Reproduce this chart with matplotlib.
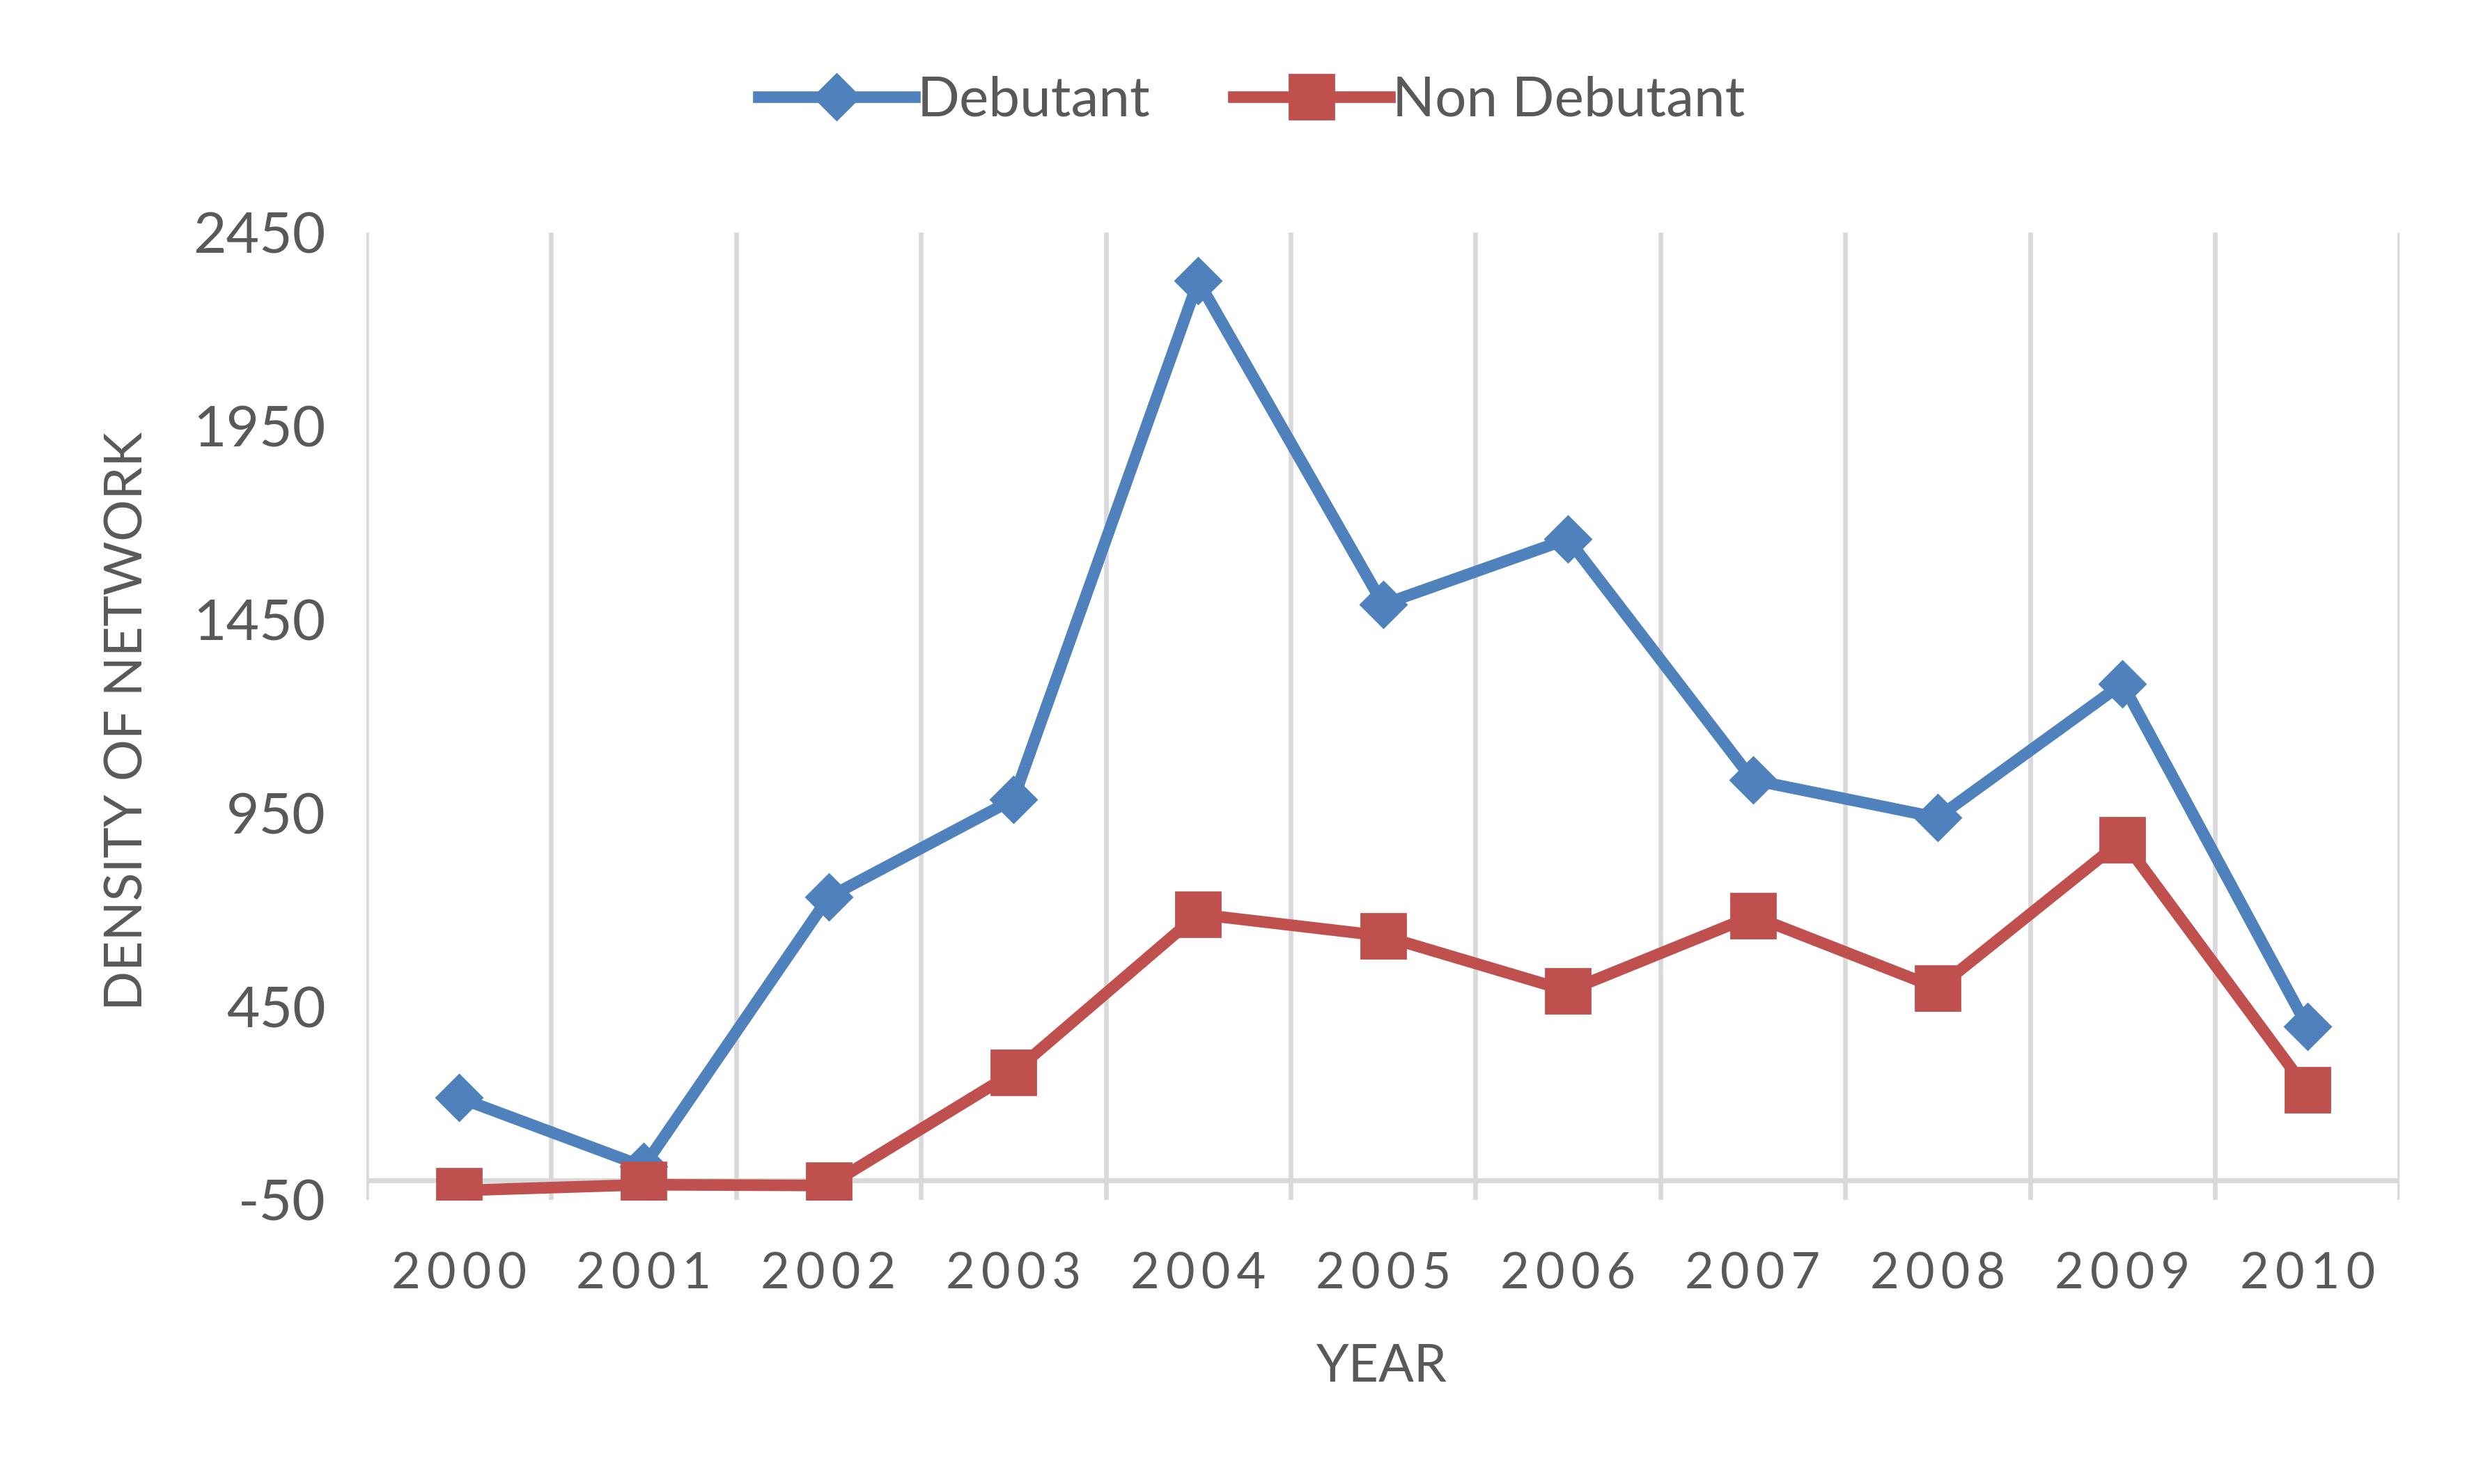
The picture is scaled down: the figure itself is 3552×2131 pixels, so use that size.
import matplotlib.pyplot as plt
import numpy as np

# datos
years = ['2000', '2001', '2002', '2003', '2004', '2005', '2006', '2007', '2008', '2009', '2010']
debutant = [214, 36, 732, 985, 2325, 1489, 1658, 1035, 938, 1284, 398]
non_debutant = [-26, -11, -13, 279, 688, 632, 490, 684, 497, 880, 234]
y_ticks = [-50, 450, 950, 1450, 1950, 2450]

blue = '#4F81BD'
red = '#C0504D'
grid_gray = '#D9D9D9'
text_gray = '#595959'

plt.rcParams['font.family'] = ['Lato', 'DejaVu Sans']

fig = plt.figure(figsize=(17.76, 10.655), dpi=200)
ax = fig.add_axes([0.1481, 0.1915, 0.9700 - 0.1481, 0.8433 - 0.1915])

x = np.arange(len(years))

# lineas verticales entre categorias
for xb in np.arange(-0.5, len(years), 1.0):
    ax.axvline(xb, color=grid_gray, lw=2.4, zorder=0)
# eje horizontal en cero
ax.axhline(0, color=grid_gray, lw=2.6, zorder=0.5)

ax.plot(x, debutant, color=blue, lw=6.0, marker='D', markersize=17,
        mfc=blue, mec=blue, mew=1, label='Debutant', zorder=3)
ax.plot(x, non_debutant, color=red, lw=6.0, marker='s', markersize=23,
        mfc=red, mec=red, mew=1, label='Non Debutant', zorder=4)

ax.set_xlim(-0.5, len(years) - 0.5)
ax.set_ylim(-50, 2450)
ax.set_yticks(y_ticks)
ax.set_yticklabels([str(v) for v in y_ticks])
ax.set_xticks(x)
ax.set_xticklabels(['\u2009'.join(y) for y in years])

for s in ax.spines.values():
    s.set_visible(False)
ax.tick_params(axis='both', length=0, colors=text_gray, labelsize=26)
ax.tick_params(axis='y', pad=21, labelsize=29.5)
ax.tick_params(axis='x', pad=27)

fig.text(0.0515, 0.514, 'DENSITY OF NETWORK', rotation=90, ha='center', va='center',
         fontsize=27, color=text_gray)
fig.text(0.5585, 1 - 1963 / 2131, 'YEAR', ha='center', va='center',
         fontsize=27, color=text_gray)

leg = ax.legend(loc='center', bbox_to_anchor=(0.506, 0.932), bbox_transform=fig.transFigure,
                ncol=2, frameon=False, fontsize=28.8, handlelength=2.8,
                handletextpad=0.05, columnspacing=1.5)
for t in leg.get_texts():
    t.set_color(text_gray)

fig.savefig('out.png', dpi=200)
